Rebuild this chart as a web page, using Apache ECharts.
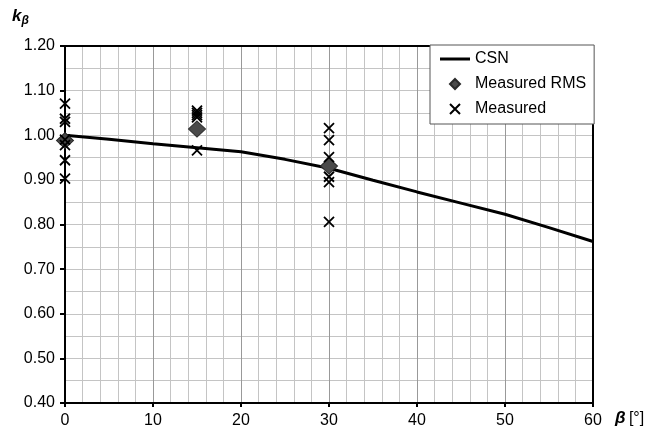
<!DOCTYPE html>
<html>
<head>
<meta charset="utf-8">
<script src="https://cdn.jsdelivr.net/npm/echarts@6/dist/echarts.min.js"></script>
<style>
html,body{margin:0;padding:0;background:#fff;}
#chart{width:655px;height:437px;}
</style>
</head>
<body>
<div id="chart"></div>
<script>
// CSN curve
var csnBeta = [0, 5, 10, 15, 20, 25, 30, 35, 40, 45, 50, 55, 60];
var csnK    = [1.000, 0.991, 0.981, 0.972, 0.963, 0.946, 0.926, 0.899, 0.873, 0.848, 0.823, 0.793, 0.762];
// Measured RMS
var rmsBeta = [0, 15, 30];
var rmsK    = [0.988, 1.014, 0.931];
// Measured values
var measBeta = [0, 0, 0, 0, 0, 0, 0, 15, 15, 15, 15, 15, 30, 30, 30, 30, 30, 30];
var measK    = [1.071, 1.037, 1.030, 0.990, 0.978, 0.944, 0.903, 1.055, 1.050, 1.045, 1.040, 0.966, 1.016, 0.989, 0.951, 0.907, 0.895, 0.806];
// axes
var xMin = 0, xMax = 60, xStep = 10;
var yMin = 0.4, yMax = 1.2, yStep = 0.1;

function pairs(xs, ys){ return xs.map(function(x,i){ return [x, ys[i]]; }); }

var FONT = 'Liberation Sans, Arial, sans-serif';
var crossPath = 'path://M0,0L10,10M10,0L0,10';
var diamondPath = 'path://M5,0L10,5L5,10L0,5Z';
var linePath = 'path://M0,0L30,0L30,3L0,3Z';

var chart = echarts.init(document.getElementById('chart'), null, {renderer:'canvas'});
chart.setOption({
  animation: false,
  backgroundColor: '#fff',
  textStyle: {fontFamily: FONT},
  grid: {left: 65, right: 62, top: 46, bottom: 34},
  legend: {
    orient: 'vertical',
    left: 430, top: 45,
    padding: [6, 8, 7, 10],
    itemWidth: 30, itemHeight: 10, itemGap: 9,
    symbolKeepAspect: true,
    backgroundColor: '#fff',
    borderColor: '#555', borderWidth: 1,
    textStyle: {fontFamily: FONT, fontSize: 16, color: '#000'},
    data: [
      {name: 'CSN', icon: linePath, itemStyle: {color: '#000', borderWidth: 0}},
      {name: 'Measured RMS', icon: diamondPath},
      {name: 'Measured', icon: crossPath}
    ]
  },
  xAxis: [{
    type: 'value', min: xMin, max: xMax, interval: xStep,
    axisLine: {show: true, onZero: false, lineStyle: {color: '#000', width: 2}},
    axisTick: {show: true, length: 4, inside: false, lineStyle: {color: '#000', width: 2}},
    axisLabel: {color: '#000', fontSize: 16, fontFamily: FONT, margin: 10},
    splitLine: {show: true, lineStyle: {color: '#999', width: 1}},
    minorTick: {show: false, splitNumber: 5},
    minorSplitLine: {show: true, lineStyle: {color: '#c4c4c4', width: 1}}
  }, {
    type: 'value', position: 'top', min: xMin, max: xMax, interval: xStep,
    axisLine: {show: true, onZero: false, lineStyle: {color: '#000', width: 2}},
    axisTick: {show: false}, axisLabel: {show: false}, splitLine: {show: false}
  }],
  yAxis: [{
    type: 'value', min: yMin, max: yMax, interval: yStep,
    axisLine: {show: true, onZero: false, lineStyle: {color: '#000', width: 2}},
    axisTick: {show: true, length: 5, inside: false, lineStyle: {color: '#000', width: 2}},
    axisLabel: {color: '#000', fontSize: 16, fontFamily: FONT, margin: 10,
      formatter: function(v){ return v.toFixed(2); }},
    splitLine: {show: true, lineStyle: {color: '#c4c4c4', width: 1}},
    minorTick: {show: false, splitNumber: 2},
    minorSplitLine: {show: true, lineStyle: {color: '#c4c4c4', width: 1}}
  }, {
    type: 'value', position: 'right', min: yMin, max: yMax, interval: yStep,
    axisLine: {show: true, onZero: false, lineStyle: {color: '#000', width: 2}},
    axisTick: {show: false}, axisLabel: {show: false}, splitLine: {show: false}
  }],
  graphic: [
    {type: 'text', left: 12, top: 8, style: {
      text: '{k|k}{s|β}',
      rich: {
        k: {fontFamily: FONT, fontSize: 17, fontWeight: 'bold', fontStyle: 'italic', fill: '#000'},
        s: {fontFamily: FONT, fontSize: 12, fontWeight: 'bold', fontStyle: 'italic', fill: '#000', padding: [8,0,0,0]}
      }
    }},
    {type: 'text', left: 615, top: 410, style: {
      text: '{b|β} {u|[°]}',
      rich: {
        b: {fontFamily: FONT, fontSize: 17, fontWeight: 'bold', fontStyle: 'italic', fill: '#000'},
        u: {fontFamily: FONT, fontSize: 16, fill: '#000'}
      }
    }}
  ],
  series: [
    {
      name: 'CSN', type: 'line', data: pairs(csnBeta, csnK),
      symbol: 'none', showSymbol: false, smooth: false, z: 3,
      lineStyle: {color: '#000', width: 3},
      itemStyle: {color: '#000'}
    },
    {
      name: 'Measured RMS', type: 'scatter', data: pairs(rmsBeta, rmsK),
      symbol: diamondPath, symbolSize: [17, 16], z: 4,
      itemStyle: {color: '#4a4a4a', borderColor: '#2a2a2a', borderWidth: 1, opacity: 1}
    },
    {
      name: 'Measured', type: 'scatter', data: pairs(measBeta, measK),
      symbol: crossPath, symbolSize: 10, z: 5,
      itemStyle: {color: 'none', borderColor: '#000', borderWidth: 1.8, opacity: 1}
    }
  ]
});
</script>
</body>
</html>
